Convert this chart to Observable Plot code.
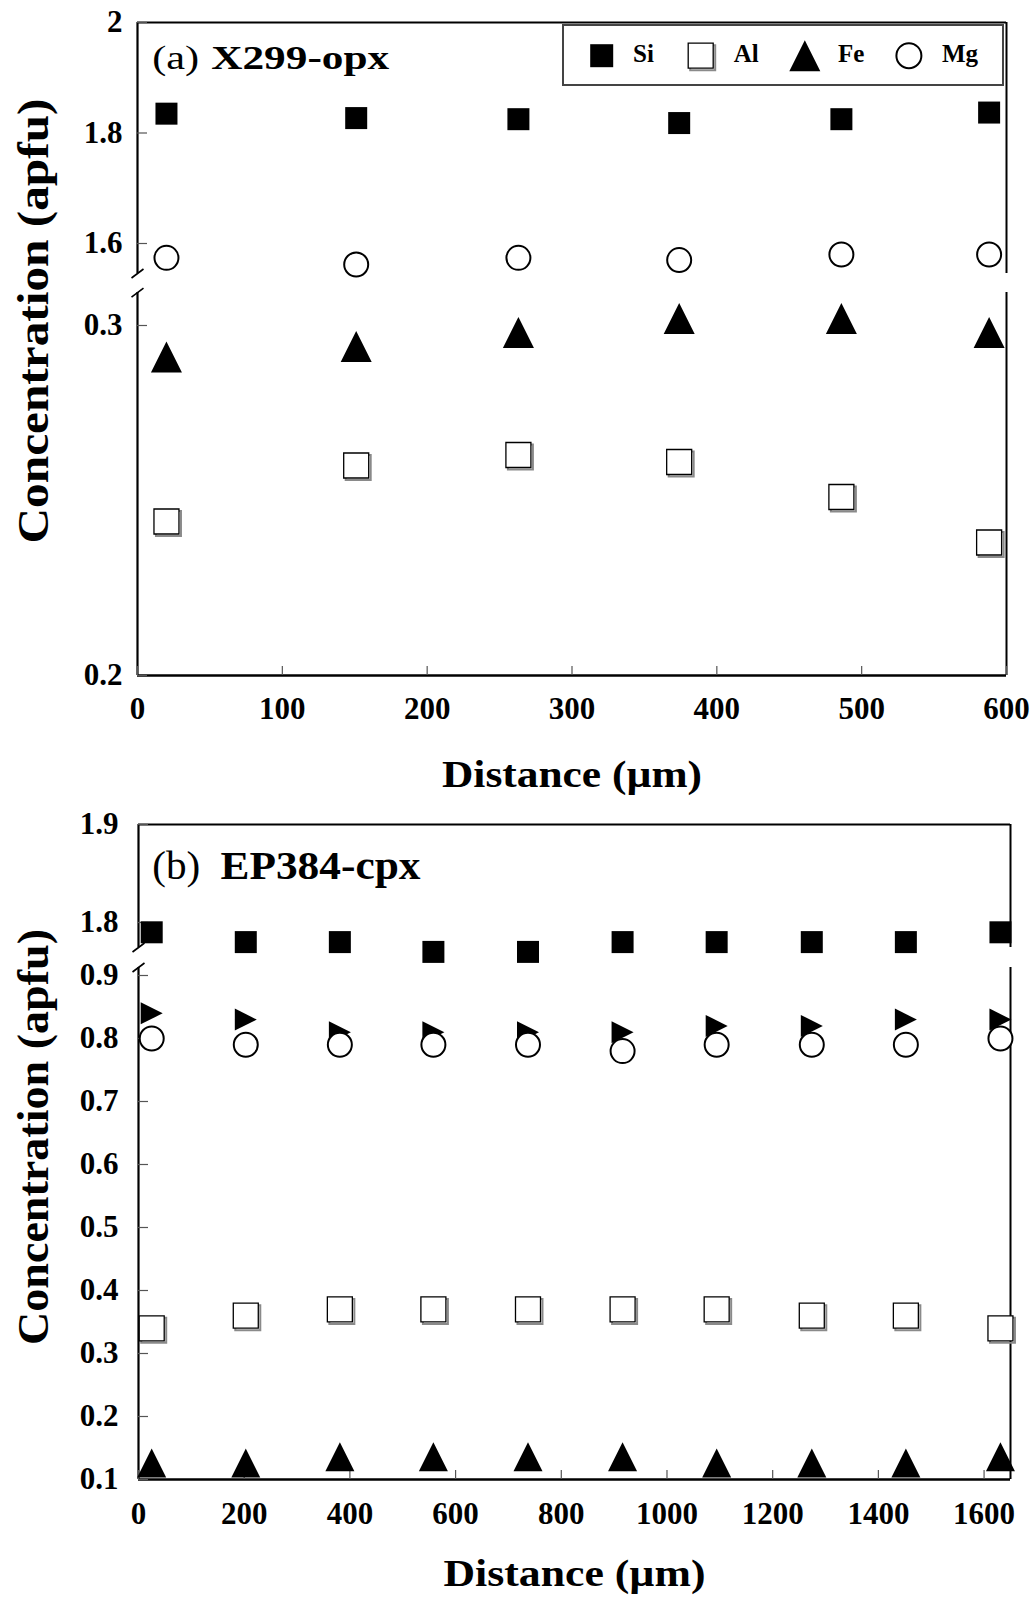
<!DOCTYPE html>
<html><head><meta charset="utf-8">
<script src="https://cdn.jsdelivr.net/npm/d3@7"></script>
<script src="https://cdn.jsdelivr.net/npm/@observablehq/plot@0.6"></script>
<style>
 html,body{margin:0;padding:0;background:#fff;}
 #page{position:relative;width:1032px;height:1606px;overflow:hidden;background:#fff;}
 .panel{position:absolute;left:0;width:1032px;}
 .layer{position:absolute;left:0;top:0;}
</style></head><body><div id="page"></div>
<script>
// ---------------- DATA ----------------
// Panel (a) X299-opx
const aDistance = [20, 151, 263, 374, 486, 588];
const aSi = [1.835, 1.827, 1.825, 1.818, 1.825, 1.837];
const aAl = [0.244, 0.260, 0.263, 0.261, 0.251, 0.238];
const aFe = [0.291, 0.294, 0.298, 0.302, 0.302, 0.298];
const aMg = [1.574, 1.562, 1.574, 1.570, 1.580, 1.580];
const aXTicks = [0, 100, 200, 300, 400, 500, 600];
const aYTicksUpper = [1.6, 1.8, 2];
const aYTicksLower = [0.2, 0.3];
const aBreaks = [0.3094, 1.5457];   // lower segment top, upper segment bottom

// Panel (b) EP384-cpx
const bDistance = [25, 203, 381, 558, 737, 916, 1094, 1274, 1452, 1631];
const bSi = [1.79, 1.78, 1.78, 1.77, 1.77, 1.78, 1.78, 1.78, 1.78, 1.79];
const bAl = [0.34, 0.36, 0.37, 0.37, 0.37, 0.37, 0.37, 0.36, 0.36, 0.34];
const bFe = [0.126, 0.126, 0.136, 0.136, 0.136, 0.136, 0.126, 0.126, 0.126, 0.136];
const bMg = [0.80, 0.79, 0.79, 0.79, 0.79, 0.78, 0.79, 0.79, 0.79, 0.80];
const bCa = [0.84, 0.83, 0.81, 0.81, 0.81, 0.81, 0.82, 0.82, 0.83, 0.83];
const bXTicks = [0, 200, 400, 600, 800, 1000, 1200, 1400, 1600];
const bYTicksUpper = [1.8, 1.9];
const bYTicksLower = [0.1, 0.2, 0.3, 0.4, 0.5, 0.6, 0.7, 0.8, 0.9];
const bBreaks = [0.9127, 1.7745];

const xTitle = "Distance (µm)";
const yTitle = "Concentration (apfu)";

// ---------------- SYMBOLS ----------------
const FONT = "'Liberation Serif','Times New Roman',Times,serif";
const R = size => Math.sqrt(size / Math.PI);
const symSquare = {draw(c, s){const h=R(s); c.moveTo(-h,-h); c.lineTo(h,-h); c.lineTo(h,h); c.lineTo(-h,h); c.closePath();}};
const symTriUp = {draw(c, s){const h=R(s); c.moveTo(0,-h); c.lineTo(h,h); c.lineTo(-h,h); c.closePath();}};
const symTriRight = {draw(c, s){const h=R(s); c.moveTo(-h,-h); c.lineTo(h,0); c.lineTo(-h,h); c.closePath();}};
const symCircle = {draw(c, s){const h=R(s); c.moveTo(h,0); c.arc(0,0,h,0,2*Math.PI); c.closePath();}};
const symSlash = {draw(c, s){const h=R(s); c.moveTo(-h,0.75*h); c.lineTo(h,-0.75*h);}};

const rows = (xs, ys) => xs.map((x, i) => ({x, y: ys[i]}));

const STY = {
  Si: {symbol: symSquare, fill: "black", stroke: "none"},
  Al: {symbol: symSquare, fill: "white", stroke: "black", sw: 1.3, shadow: true},
  Fe: {symbol: symTriUp, fill: "black", stroke: "none"},
  Mg: {symbol: symCircle, fill: "white", stroke: "black", sw: 2},
  Ca: {symbol: symTriRight, fill: "black", stroke: "none"}
};

function seriesMarks(data, st, r) {
  const out = [];
  if (st.shadow) out.push(Plot.dot(data, {x: "x", y: "y", symbol: st.symbol, r, fill: "none", stroke: "#8a8a8a", strokeWidth: 2, dx: 2, dy: 2}));
  out.push(Plot.dot(data, {x: "x", y: "y", symbol: st.symbol, r, fill: st.fill, stroke: st.stroke, strokeWidth: st.sw || 1}));
  return out;
}

function frameMarks(xDomain, segBottom, segTop, withSlash) {
  const m = [
    Plot.ruleX([xDomain[0]], {x: d => d, y1: () => segBottom, y2: () => segTop, stroke: "black", strokeWidth: 2.2}),
    Plot.ruleX([xDomain[1]], {x: d => d, y1: () => segBottom, y2: () => segTop, stroke: "black", strokeWidth: 2})
  ];
  if (withSlash != null) m.push(Plot.dot([withSlash], {x: () => xDomain[0], y: d => d, symbol: symSlash, r: 6, fill: "none", stroke: "black", strokeWidth: 1.6}));
  return m;
}

function yTickMarks(ticks, frameW, labelDx) {
  return [
    Plot.tickY(ticks, {y: d => d, insetRight: frameW - 10, stroke: "#555", strokeWidth: 1.2}),
    Plot.text(ticks, {y: d => d, text: d => String(d), frameAnchor: "left", textAnchor: "end", dx: labelDx, fontSize: 31, fontWeight: "bold", fontFamily: FONT, fill: "black"})
  ];
}

function sectionPlot(c, yDomain, yRange, marks) {
  return Plot.plot({
    width: 1032, height: c.H,
    marginLeft: c.m.l, marginRight: c.m.r, marginTop: c.m.t, marginBottom: c.m.b,
    x: {domain: c.xDomain, axis: null},
    y: {domain: yDomain, range: yRange, axis: null},
    marks,
    style: {background: "transparent", overflow: "visible", fontFamily: FONT, fontSize: "31px", color: "black"}
  });
}

function stretch(svg, map) {
  d3.select(svg).selectAll("text").each(function() {
    const L = map[this.textContent];
    if (L) { this.setAttribute("textLength", L); this.setAttribute("lengthAdjust", "spacingAndGlyphs"); }
  });
}

function legend(parent, box, items) {
  const svg = d3.select(parent).append("svg").attr("class", "layer")
    .style("left", box.left + "px").style("top", box.top + "px")
    .attr("width", box.w).attr("height", box.h).style("overflow", "visible");
  svg.append("rect").attr("x", 1).attr("y", 1).attr("width", box.w - 2).attr("height", box.h - 2)
    .attr("fill", "white").attr("stroke", "#444").attr("stroke-width", 2);
  for (const it of items) {
    const st = STY[it.k];
    const d = d3.symbol(st.symbol, Math.PI * it.r * it.r)();
    const g = svg.append("g").attr("transform", `translate(${it.sx},${box.cy})`);
    if (st.shadow) g.append("path").attr("d", d).attr("transform", "translate(2,2)").attr("fill", "none").attr("stroke", "#8a8a8a").attr("stroke-width", 2);
    g.append("path").attr("d", d).attr("fill", st.fill).attr("stroke", st.stroke).attr("stroke-width", st.sw || 1);
    svg.append("text").attr("x", it.tx).attr("y", 38).text(it.k)
      .attr("font-family", FONT).attr("font-weight", "bold").attr("font-size", 25).attr("fill", "black");
  }
}

function panel(c) {
  const div = d3.select("#page").append("div").attr("class", "panel").style("top", c.top + "px").style("height", c.H + "px").node();
  const frameW = 1032 - c.m.l - c.m.r;
  const frameH = c.H - c.m.t - c.m.b;

  const upperMarks = [
    Plot.ruleY([c.upper.domain[1]], {y: d => d, stroke: "black", strokeWidth: 2}),
    ...frameMarks(c.xDomain, c.upper.breakAt, c.upper.domain[1], c.upper.breakAt),
    ...yTickMarks(c.upper.ticks, frameW, c.labelDx),
    ...c.upper.series.flatMap(s => seriesMarks(s.data, STY[s.k], s.r)),
    Plot.text([c.label[0]], {text: d => d, frameAnchor: "top-left", textAnchor: "start", lineAnchor: "bottom", dx: c.label[2], dy: c.labelBase, fontSize: c.labelSize[0], fontWeight: "normal", fontFamily: FONT, fill: "black"}),
    Plot.text([c.label[1]], {text: d => d, frameAnchor: "top-left", textAnchor: "start", lineAnchor: "bottom", dx: c.label[3], dy: c.labelBase, fontSize: c.labelSize[1], fontWeight: "bold", fontFamily: FONT, fill: "black"})
  ];
  const lowerMarks = [
    Plot.ruleY([c.lower.domain[0]], {y: d => d, stroke: "black", strokeWidth: 2.4}),
    ...frameMarks(c.xDomain, c.lower.domain[0], c.lower.breakAt, c.lower.breakAt),
    ...yTickMarks(c.lower.ticks, frameW, c.labelDx),
    Plot.tickX(c.xTicks, {x: d => d, insetTop: frameH - 9, stroke: "#555", strokeWidth: 1.2}),
    Plot.text(c.xTicks, {x: d => d, text: d => String(d), frameAnchor: "bottom", lineAnchor: "top", dy: c.xLabelDy, fontSize: 31, fontWeight: "bold", fontFamily: FONT, fill: "black"}),
    ...c.lower.series.flatMap(s => seriesMarks(s.data, STY[s.k], s.r)),
    Plot.text([xTitle], {text: d => d, frameAnchor: "bottom", textAnchor: "middle", lineAnchor: "bottom", dy: c.xTitleDy, fontSize: 38, fontWeight: "bold", fontFamily: FONT, fill: "black"}),
    Plot.text([yTitle], {text: d => d, frameAnchor: "left", textAnchor: "middle", lineAnchor: "middle", rotate: -90, dx: c.yTitleDx, dy: c.yTitleDy, fontSize: 44, fontWeight: "bold", fontFamily: FONT, fill: "black"})
  ];
  const lower = sectionPlot(c, c.lower.domain, c.lower.range, lowerMarks);
  const upper = sectionPlot(c, c.upper.domain, c.upper.range, upperMarks);
  for (const s of [lower, upper]) { s.classList.add("layer"); s.style.position = "absolute"; s.style.left = "0px"; s.style.top = "0px"; div.appendChild(s); stretch(s, c.stretch); }
  legend(div, c.legendBox, c.legendItems);
}

// Panel (a)
panel({
  top: 0, H: 800, m: {l: 137, r: 26, t: 22, b: 125},
  xDomain: [0, 600], xTicks: aXTicks, labelDx: -15, xLabelDy: 21, xTitleDy: 111, yTitleDx: -104, yTitleDy: -28,
  upper: {domain: [1.6, 2], range: [243, 22], ticks: aYTicksUpper, breakAt: aBreaks[1],
    series: [{k: "Si", data: rows(aDistance, aSi), r: 11}, {k: "Mg", data: rows(aDistance, aMg), r: 12}]},
  lower: {domain: [0.2, 0.3], range: [675, 325], ticks: aYTicksLower, breakAt: aBreaks[0],
    series: [{k: "Al", data: rows(aDistance, aAl), r: 12.5}, {k: "Fe", data: rows(aDistance, aFe), r: 15.5}]},
  label: ["(a)", "X299-opx", 14.7, 73.7], labelSize: [34, 34], labelBase: 46,
  stretch: {"(a)": 47, "X299-opx": 178, [xTitle]: 260, [yTitle]: 445},
  legendBox: {left: 562, top: 24, w: 442, h: 62, cy: 31.7},
  legendItems: [
    {k: "Si", sx: 39.7, tx: 71, r: 11.5}, {k: "Al", sx: 138.7, tx: 171.8, r: 12.5},
    {k: "Fe", sx: 242.8, tx: 275.9, r: 15.5}, {k: "Mg", sx: 346.9, tx: 380, r: 12.5}
  ]
});

// Panel (b)
panel({
  top: 800, H: 806, m: {l: 138, r: 22, t: 24, b: 127},
  xDomain: [0, 1650], xTicks: bXTicks, labelDx: -20, xLabelDy: 22, xTitleDy: 106, yTitleDx: -105, yTitleDy: -15,
  upper: {domain: [1.8, 1.9], range: [122, 24], ticks: bYTicksUpper, breakAt: bBreaks[1],
    series: [{k: "Si", data: rows(bDistance, bSi), r: 11}]},
  lower: {domain: [0.1, 0.9], range: [679, 175], ticks: bYTicksLower, breakAt: bBreaks[0],
    series: [{k: "Al", data: rows(bDistance, bAl), r: 12.5}, {k: "Fe", data: rows(bDistance, bFe), r: 14.5},
             {k: "Ca", data: rows(bDistance, bCa), r: 11}, {k: "Mg", data: rows(bDistance, bMg), r: 12}]},
  label: ["(b)", "EP384-cpx", 13.7, 82], labelSize: [41, 41], labelBase: 54,
  stretch: {"(b)": 48, "EP384-cpx": 200, [xTitle]: 262, [yTitle]: 416},
  legendBox: {left: 509, top: 830, w: 492, h: 62, cy: 30.7},
  legendItems: [
    {k: "Si", sx: 33, tx: 64, r: 11.5}, {k: "Al", sx: 121, tx: 153, r: 12.5},
    {k: "Fe", sx: 213, tx: 245, r: 15}, {k: "Mg", sx: 306, tx: 339, r: 12.5}, {k: "Ca", sx: 409, tx: 441, r: 11}
  ]
});
</script></body></html>
